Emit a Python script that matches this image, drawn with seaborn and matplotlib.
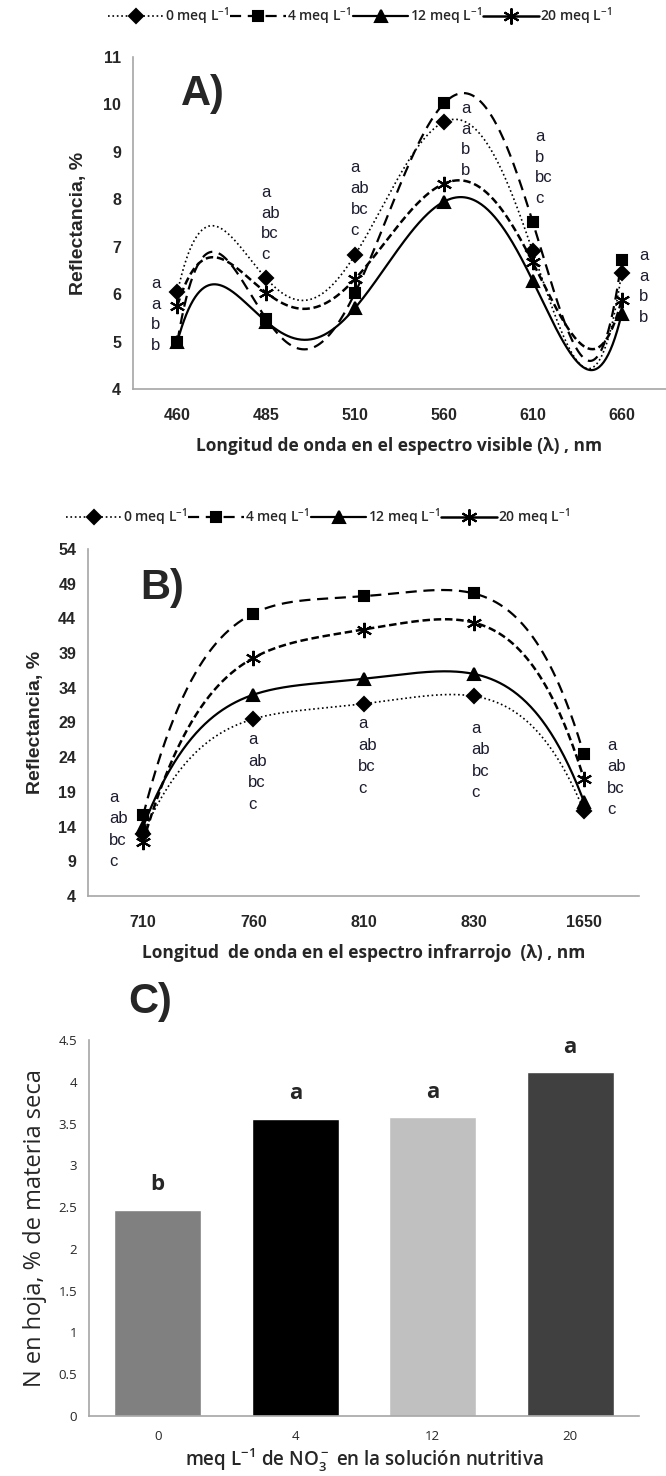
import numpy as np
import pandas as pd
import matplotlib
matplotlib.use('Agg')
import matplotlib.pyplot as plt
from matplotlib.lines import Line2D
import seaborn as sns

# ---- data ----
doses = ['0', '4', '12', '20']

vis_wl = ['460', '485', '510', '560', '610', '660']
vis_0 = [6.04, 6.33, 6.83, 9.63, 6.90, 6.44]
vis_4 = [5.00, 5.48, 6.03, 10.02, 7.52, 6.72]
vis_12 = [5.00, 5.42, 5.71, 7.95, 6.28, 5.58]
vis_20 = [5.76, 6.03, 6.32, 8.33, 6.67, 5.87]
vis_letters = [['a', 'a', 'b', 'b'], ['a', 'ab', 'bc', 'c'], ['a', 'ab', 'bc', 'c'],
               ['a', 'a', 'b', 'b'], ['a', 'b', 'bc', 'c'], ['a', 'a', 'b', 'b']]

ir_wl = ['710', '760', '810', '830', '1650']
ir_0 = [13.0, 29.5, 31.7, 32.8, 16.3]
ir_4 = [15.6, 44.7, 47.2, 47.6, 24.4]
ir_12 = [14.0, 33.0, 35.3, 36.0, 17.6]
ir_20 = [11.8, 38.3, 42.4, 43.4, 20.9]
ir_letters = [['a', 'ab', 'bc', 'c']] * 5

n_doses = ['0', '4', '12', '20']
n_leaf = [2.47, 3.56, 3.58, 4.12]
n_letters = ['b', 'a', 'a', 'a']
bar_colors = ['#808080', '#000000', '#C0C0C0', '#404040']

# ---- styling ----
sns.set_style('white')
plt.rcParams['font.family'] = ['Liberation Sans', 'DejaVu Sans']
plt.rcParams['mathtext.default'] = 'regular'

styles = {
    '0': dict(ls=':', lw=1.2, marker='D', ms=7),
    '4': dict(ls=(0, (5, 3)), lw=1.6, marker='s', ms=7),
    '12': dict(ls='-', lw=1.6, marker='^', ms=8),
    '20': dict(ls=(0, (3, 1.5)), lw=1.8, marker=(6, 2, 0), ms=11),
}
grey = '#A6A6A6'
letter_col = '#1c1c30'

fig = plt.figure(figsize=(6.66, 14.76), dpi=100)
W, H = 666, 1476


def axes_px(left, right, top, bottom):
    return fig.add_axes([left / W, 1 - bottom / H, (right - left) / W, (bottom - top) / H])


def style_axes(ax):
    sns.despine(ax=ax)
    for s in ['left', 'bottom']:
        ax.spines[s].set_color(grey)
        ax.spines[s].set_linewidth(1.2)
    ax.tick_params(axis='y', direction='out', length=5, color=grey, width=1.2)


def line_panel(ax, cats, series, letters, letter_pos, ylim, ystep, gap):
    x = np.arange(len(cats))
    xs = np.linspace(0, len(cats) - 1, 400)
    for dose, vals in zip(doses, series):
        st = styles[dose]
        coef = np.polyfit(x, vals, len(x) - 1)  # trend line through the points
        ax.plot(xs, np.polyval(coef, xs), color='black', ls=st['ls'], lw=st['lw'])
    for dose, vals in zip(doses, series):
        st = styles[dose]
        ax.plot(x, vals, ls='none', marker=st['marker'], ms=st['ms'], color='black',
                mec='black', mew=1.5)
    for i, (lets, (dx, ytop)) in enumerate(zip(letters, letter_pos)):
        for j, t in enumerate(lets):
            ax.text(i + dx, ytop - j * gap, t, ha='left', va='center', fontsize=12,
                    color=letter_col)
    ax.set_xlim(-0.5, len(cats) - 0.5)
    ax.set_ylim(*ylim)
    ax.set_yticks(np.arange(ylim[0], ylim[1] + 0.01, ystep))
    ax.set_yticklabels([f'{v:g}' for v in np.arange(ylim[0], ylim[1] + 0.01, ystep)],
                       fontsize=11.5, fontweight='bold')
    ax.set_xticks(np.arange(-0.5, len(cats), 1.0))
    ax.set_xticklabels([])
    ax.set_xticks(x, minor=True)
    ax.set_xticklabels(cats, minor=True, fontsize=11.5, fontweight='bold')
    ax.tick_params(axis='x', which='major', direction='out', length=6, color=grey, width=1.2)
    ax.tick_params(axis='x', which='minor', length=0, pad=14)
    style_axes(ax)


def add_legend(ax, cx, cy):
    handles = []
    for dose in doses:
        st = styles[dose]
        ls = st['ls'] if dose != '20' else '-'
        handles.append(Line2D([], [], color='black', ls=ls, lw=st['lw'], marker=st['marker'],
                              ms=st['ms'] * 1.05, mew=1.5))
    labels = [f'{d} meq L$^{{-1}}$' for d in doses]
    ax.legend(handles, labels, loc='center', bbox_to_anchor=(cx / W, 1 - cy / H),
              bbox_transform=fig.transFigure, ncol=4, frameon=False, handlelength=4.0,
              handletextpad=0.1, columnspacing=0.1,
              prop={'family': 'Open Sans', 'size': 10, 'weight': 'semibold'})


# ---- A) visible ----
axA = axes_px(133, 666, 57, 389)
line_panel(axA, vis_wl, [vis_0, vis_4, vis_12, vis_20], vis_letters,
           [(-0.30, 6.23), (-0.06, 8.15), (-0.05, 8.67), (0.19, 9.92), (0.03, 9.33), (0.20, 6.82)],
           (4, 11), 1, 0.44)
axA.set_ylabel('Reflectancia, %', fontsize=14, fontweight='bold', labelpad=12)
axA.set_xlabel('Longitud de onda en el espectro visible (λ) , nm', fontsize=12.5,
               fontweight='bold', family='Open Sans', labelpad=10)
fig.text(203 / W, 1 - 94 / H, 'A)', fontsize=30, fontweight='bold', ha='center', va='center')
add_legend(axA, 360, 16)

# ---- B) infrared ----
axB = axes_px(88, 639, 549, 896)
line_panel(axB, ir_wl, [ir_0, ir_4, ir_12, ir_20], ir_letters,
           [(-0.31, 18.2), (-0.05, 26.5), (-0.05, 28.8), (-0.02, 28.2), (0.21, 25.7)],
           (4, 54), 5, 3.1)
axB.set_ylabel('Reflectancia, %', fontsize=14, fontweight='bold', labelpad=10)
axB.set_xlabel('Longitud  de onda en el espectro infrarrojo  (λ) , nm', fontsize=12.5,
               fontweight='bold', family='Open Sans', labelpad=10)
fig.text(162 / W, 1 - 588 / H, 'B)', fontsize=30, fontweight='bold', ha='center', va='center')
add_legend(axB, 318, 517)

# ---- C) leaf N ----
axC = axes_px(89, 639, 1040, 1416)
dfC = pd.DataFrame({'dose': n_doses, 'N': n_leaf})
sns.barplot(data=dfC, x='dose', y='N', hue='dose', palette=bar_colors, legend=False,
            width=0.63, saturation=1, ax=axC)
for i, (v, t) in enumerate(zip(n_leaf, n_letters)):
    axC.text(i, v + 0.17, t, ha='center', va='bottom', fontsize=16, fontweight='bold',
             family='Open Sans')
axC.set_ylim(0, 4.5)
axC.set_xlim(-0.5, 3.5)
axC.set_yticks(np.arange(0, 4.51, 0.5))
axC.set_yticklabels([f'{v:g}' for v in np.arange(0, 4.51, 0.5)], fontsize=9.5, family='Open Sans')
axC.set_xticks(np.arange(-0.5, 4, 1.0))
axC.set_xticklabels([])
axC.set_xticks(range(4), minor=True)
axC.set_xticklabels(n_doses, minor=True, fontsize=9.5, family='Open Sans')
axC.tick_params(axis='x', which='major', direction='out', length=6, color=grey, width=1.2)
axC.tick_params(axis='x', which='minor', length=0, pad=10)
style_axes(axC)
axC.set_ylabel('N en hoja, % de materia seca', fontsize=17, family='Open Sans', labelpad=8)
axC.set_xlabel('meq L$^{-1}$ de NO$_3^-$ en la solución nutritiva', fontsize=13.5,
               fontweight='semibold', family='Open Sans', labelpad=2)
fig.text(150 / W, 1 - 1002 / H, 'C)', fontsize=30, fontweight='bold', ha='center', va='center')

fig.savefig('out.png', dpi=100)
